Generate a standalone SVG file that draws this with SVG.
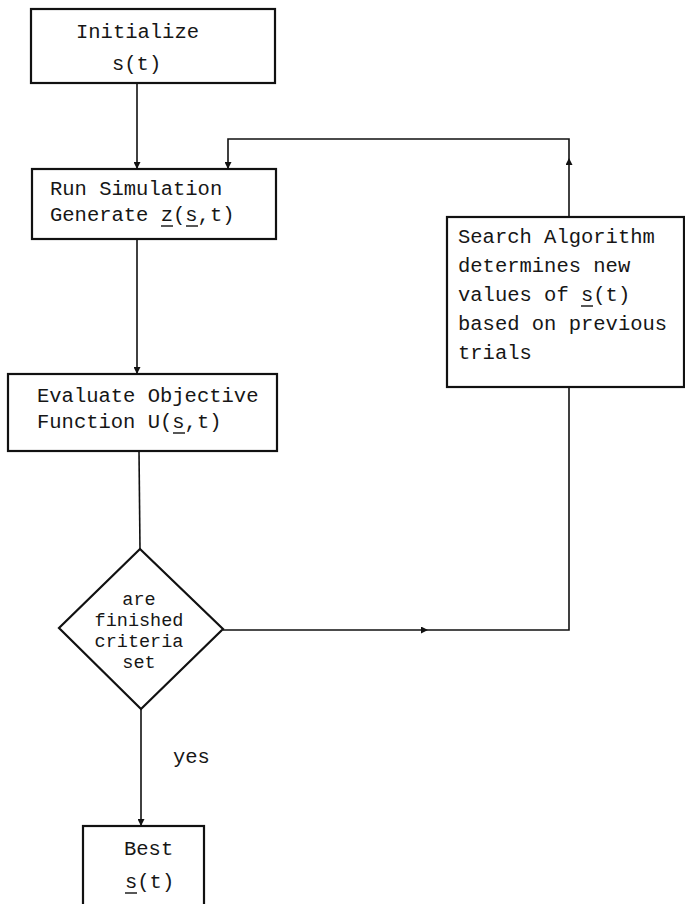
<svg xmlns="http://www.w3.org/2000/svg" width="685" height="904" viewBox="0 0 685 904">
<defs>
<marker id="arr" viewBox="0 0 10 10" refX="10" refY="5" markerWidth="11" markerHeight="7" markerUnits="userSpaceOnUse" orient="auto">
<path d="M0,0 L10,5 L0,10 Z" fill="#111"/>
</marker>
<style>
.box{fill:#fff;stroke:#111;stroke-width:2.2}
.ln{fill:none;stroke:#111;stroke-width:1.6}
.ul{stroke:#111;stroke-width:1.4}
text{font-family:"Liberation Mono","Courier New",monospace;font-size:20.5px;fill:#161616}
.dt{font-size:18.5px}
</style>
</defs>
<rect width="685" height="904" fill="#fff"/>
<g id="connectors">
<path class="ln" d="M137,83 L137,169" marker-end="url(#arr)"/>
<path class="ln" d="M137,239 L137,374" marker-end="url(#arr)"/>
<path class="ln" d="M139,451 L140,549"/>
<path class="ln" d="M141,709 L141,826" marker-end="url(#arr)"/>
<path class="ln" d="M223,630 L428,630" marker-end="url(#arr)"/>
<path class="ln" d="M428,630 L569,630 L569,387"/>
<path class="ln" d="M569,217 L569,158" marker-end="url(#arr)"/>
<path class="ln" d="M569,158 L569,139 L228,139 L228,169" marker-end="url(#arr)"/>
<text x="173" y="763">yes</text>
</g>
<g id="initialize">
<rect class="box" x="31" y="9" width="244" height="74"/>
<text x="76" y="38">Initialize</text>
<text x="112" y="70">s(t)</text>
</g>
<g id="simulation">
<rect class="box" x="32" y="169" width="244" height="70"/>
<text x="50" y="195">Run Simulation</text>
<text x="50" y="221">Generate z(s,t)</text>
<line class="ul" x1="161" y1="226" x2="173" y2="226"/>
<line class="ul" x1="186" y1="226" x2="198" y2="226"/>
</g>
<g id="evaluate">
<rect class="box" x="8" y="374" width="269" height="77"/>
<text x="37" y="402">Evaluate Objective</text>
<text x="37" y="428">Function U(s,t)</text>
<line class="ul" x1="173" y1="433" x2="185" y2="433"/>
</g>
<g id="decision">
<polygon class="box" points="140,549 223,629 141,709 59,628"/>
<text class="dt" x="139" y="605" text-anchor="middle">are</text>
<text class="dt" x="139" y="626" text-anchor="middle">finished</text>
<text class="dt" x="139" y="647" text-anchor="middle">criteria</text>
<text class="dt" x="139" y="668" text-anchor="middle">set</text>
</g>
<g id="search">
<rect class="box" x="447" y="217" width="237" height="170"/>
<text x="458" y="243">Search Algorithm</text>
<text x="458" y="272">determines new</text>
<text x="458" y="301">values of s(t)</text>
<line class="ul" x1="581" y1="306" x2="593" y2="306"/>
<text x="458" y="330">based on previous</text>
<text x="458" y="359">trials</text>
</g>
<g id="best">
<rect class="box" x="83" y="826" width="121" height="90"/>
<text x="124" y="855">Best</text>
<text x="125" y="888">s(t)</text>
<line class="ul" x1="125" y1="893" x2="137" y2="893"/>
</g>
</svg>
